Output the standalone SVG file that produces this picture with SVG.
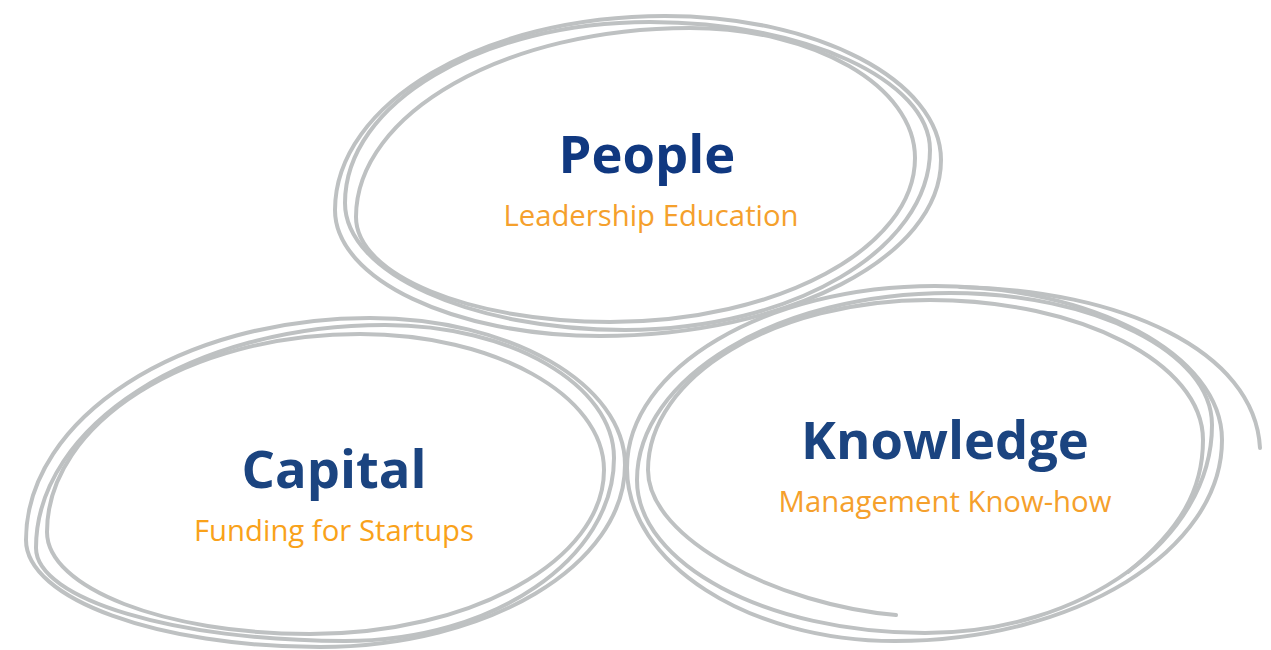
<svg xmlns="http://www.w3.org/2000/svg" width="1271" height="650" viewBox="0 0 1271 650">
<style>
.stroke{fill:none;stroke:#bec1c2;stroke-width:4;stroke-linecap:round}
.t{font-family:"Open Sans","Liberation Sans",sans-serif;font-weight:700;font-size:52.5px;fill:#1b4480;text-anchor:middle}
.s{font-family:"Open Sans","Liberation Sans",sans-serif;font-size:29.3px;fill:#f5a02c;text-anchor:middle}
</style>
<rect width="1271" height="650" fill="#ffffff"/>
<g id="people">
<path class="stroke" d="M335,210 C335,103 483,16 665,16 C817,16 941,81 941,160 C941,257 788,336 600,336 C454,336 335,279 335,210 Z"/>
<path class="stroke" d="M345,203 C345,103 482,22 650,22 C804,22 930,80 930,150 C930,249 793,330 625,330 C471,330 345,273 345,203 Z"/>
<path class="stroke" d="M356,217 C356,113 506,28 690,28 C814,28 915,86 915,158 C915,248 778,322 610,322 C470,322 356,275 356,217 Z"/>
<text class="t" x="647" y="173" style="fill:#103880">People</text>
<text class="s" x="651" y="226">Leadership Education</text>
</g>
<g id="capital">
<path class="stroke" d="M26,540 C26,418 181,318 370,318 C510,318 625,384 625,465 C625,565 488,647 320,647 C158,647 26,599 26,540 Z"/>
<path class="stroke" d="M36,548 C36,425 193,325 385,325 C511,325 614,385 614,458 C614,559 493,641 345,641 C175,641 36,599 36,548 Z"/>
<path class="stroke" d="M47,532 C47,423 188,334 360,334 C494,334 604,395 604,470 C604,560 472,634 310,634 C165,634 47,588 47,532 Z"/>
<text class="t" x="334" y="488">Capital</text>
<text class="s" x="334" y="541" style="fill:#f9a21a">Funding for Startups</text>
</g>
<g id="knowledge">
<path class="stroke" d="M627,468 C627,368 766,286 935,286 C1093,286 1222,355 1222,440 C1222,551 1075,641 895,641 C748,641 627,563 627,468 Z"/>
<path class="stroke" d="M637,480 C637,377 778,293 950,293 C1094,293 1212,352 1212,425 C1212,539 1083,633 925,633 C767,633 637,564 637,480 Z"/>
<path class="stroke" d="M1128,572 C1180,530 1203,490 1203,440 C1203,363 1080,300 930,300 C775,300 648,376 648,470 C648,540 780,605 896,615"/>
<path class="stroke" d="M960,287 C1120,290 1255,350 1260,448"/>
<text class="t" x="945" y="459">Knowledge</text>
<text class="s" x="945" y="512">Management Know-how</text>
</g>
<g id="connectors"/>
</svg>
